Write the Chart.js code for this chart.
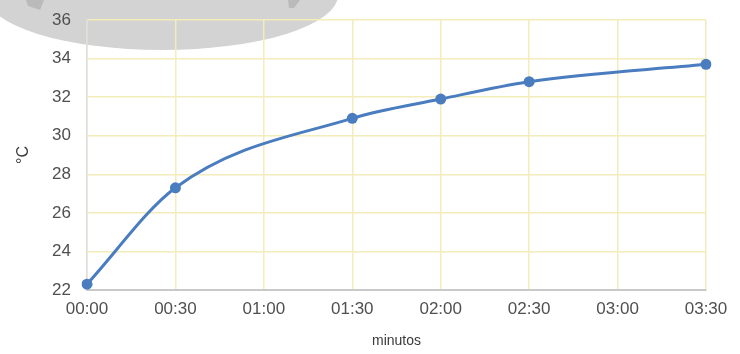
<!DOCTYPE html>
<html>
<head>
<meta charset="utf-8">
<script src="https://cdn.jsdelivr.net/npm/chart.js@4"></script>
<style>
  html, body { margin: 0; padding: 0; background: #ffffff; }
  #wrap { width: 740px; height: 354px; position: relative; }
</style>
</head>
<body>
<div id="wrap"><canvas id="c" width="740" height="354"></canvas></div>
<script>
// Elapsed time (h:mm) and measured temperature in °C; null where no reading was taken
const timeLabels = ['00:00', '00:30', '01:00', '01:30', '02:00', '02:30', '03:00', '03:30'];
const temperature = [22.3, 27.3, null, 30.9, 31.9, 32.8, null, 33.7];
const yTicks = [22, 24, 26, 28, 30, 32, 34, 36];

const gridYellow = '#f3ecbb';
const lineBlue = '#4a7cc0';
const fontFamily = 'Liberation Sans, Arial, sans-serif';

// Soft grey disc in the upper-left corner, painted behind the grid
const discPlugin = {
  id: 'disc',
  beforeDraw(chart) {
    const ctx = chart.ctx;
    ctx.save();
    ctx.fillStyle = '#d3d3d3';
    ctx.beginPath();
    ctx.ellipse(162, -5, 176, 55, 0, 0, Math.PI * 2);
    ctx.fill();
    ctx.fillStyle = '#bababa';
    ctx.beginPath();
    ctx.moveTo(26, 0); ctx.lineTo(44, 0); ctx.lineTo(40, 10); ctx.lineTo(28, 6);
    ctx.closePath();
    ctx.fill();
    ctx.beginPath();
    ctx.moveTo(288, 0); ctx.lineTo(300, 0); ctx.lineTo(294, 8); ctx.lineTo(289, 8);
    ctx.closePath();
    ctx.fill();
    ctx.restore();
  }
};

new Chart(document.getElementById('c'), {
  type: 'line',
  data: {
    labels: timeLabels,
    datasets: [{
      data: temperature,
      borderColor: lineBlue,
      backgroundColor: lineBlue,
      borderWidth: 3,
      pointRadius: 5.5,
      pointBackgroundColor: lineBlue,
      pointBorderColor: lineBlue,
      pointBorderWidth: 0,
      cubicInterpolationMode: 'monotone',
      spanGaps: true,
      fill: false
    }]
  },
  options: {
    responsive: false,
    animation: false,
    devicePixelRatio: 1,
    layout: { padding: { left: 8, right: 34, top: 20, bottom: 4 } },
    plugins: {
      legend: { display: false },
      tooltip: { enabled: false }
    },
    scales: {
      x: {
        offset: false,
        grid: { color: gridYellow, lineWidth: 1.5, drawTicks: false },
        border: { color: '#c9c9c9', width: 2 },
        ticks: {
          color: '#505050',
          font: { family: fontFamily, size: 17 },
          padding: 9,
          maxRotation: 0,
          autoSkip: false
        },
        title: {
          display: true,
          text: 'minutos',
          color: '#3a3a3a',
          font: { family: fontFamily, size: 14 },
          padding: { top: 4, bottom: 0 }
        },
        afterFit(scale) { scale.height = 60; }
      },
      y: {
        min: 22,
        max: 36,
        afterBuildTicks(scale) { scale.ticks = yTicks.map(v => ({ value: v })); },
        grid: { color: gridYellow, lineWidth: 1.5, drawTicks: false },
        border: { color: '#dedede', width: 1.5 },
        ticks: {
          color: '#505050',
          font: { family: fontFamily, size: 17 },
          padding: 16
        },
        title: {
          display: true,
          text: '°C',
          color: '#3a3a3a',
          font: { family: fontFamily, size: 16 },
          padding: { top: 6, bottom: 0 }
        },
        afterFit(scale) {
          scale.width = 79;
          scale.paddingTop = 0;
          scale.paddingBottom = 0;
        }
      }
    }
  },
  plugins: [discPlugin]
});
</script>
</body>
</html>
